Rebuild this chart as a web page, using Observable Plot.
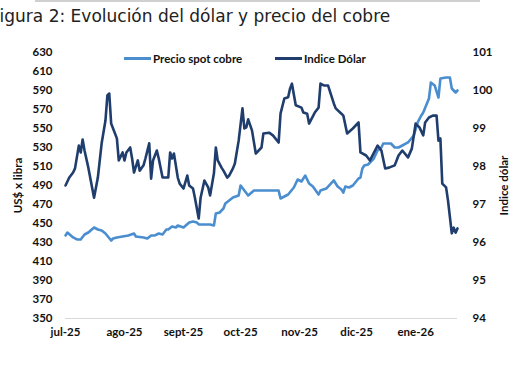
<!DOCTYPE html>
<html><head><meta charset="utf-8">
<script src="https://cdn.jsdelivr.net/npm/d3@7"></script>
<script src="https://cdn.jsdelivr.net/npm/@observablehq/plot@0.6"></script>
<style>
body{margin:0;background:#fff;overflow:hidden;}
#wrap{position:relative;width:510px;height:365px;overflow:hidden;}
#topline{position:absolute;left:35px;top:0;width:445px;height:2px;background:#d0d0d0;}
#title{position:absolute;left:-9px;top:6px;font-family:"DejaVu Sans",sans-serif;font-size:17px;color:#222;white-space:nowrap;}
#chart{position:absolute;left:0;top:40px;}
.leg{position:absolute;top:52px;font-family:Lato,sans-serif;font-weight:bold;font-size:11.5px;color:#111;display:flex;align-items:center;white-space:nowrap;}
.leg span.sw{display:inline-block;width:27px;height:2.5px;margin-right:2px;}
</style></head>
<body><div id="wrap">
<div id="topline"></div>
<div id="title">Figura 2: Evolución del dólar y precio del cobre</div>
<div id="chart"></div>
<div class="leg" style="left:124px"><span class="sw" style="background:#4a8ed0"></span>Precio spot cobre</div>
<div class="leg" style="left:275px"><span class="sw" style="background:#1f3d6d"></span>Indice Dólar</div>
</div>
<script>
const copperDates = ["2025-07-01","2025-07-02","2025-07-05","2025-07-07","2025-07-09","2025-07-11","2025-07-13","2025-07-16","2025-07-18","2025-07-20","2025-07-22","2025-07-25","2025-07-26","2025-07-28","2025-07-31","2025-08-03","2025-08-06","2025-08-07","2025-08-11","2025-08-13","2025-08-15","2025-08-17","2025-08-19","2025-08-21","2025-08-23","2025-08-24","2025-08-26","2025-08-28","2025-08-29","2025-09-01","2025-09-04","2025-09-06","2025-09-08","2025-09-09","2025-09-12","2025-09-15","2025-09-17","2025-09-18","2025-09-20","2025-09-22","2025-09-23","2025-09-25","2025-09-27","2025-09-30","2025-10-01","2025-10-03","2025-10-05","2025-10-08","2025-10-12","2025-10-21","2025-10-22","2025-10-24","2025-10-26","2025-10-29","2025-10-31","2025-11-02","2025-11-04","2025-11-06","2025-11-08","2025-11-11","2025-11-12","2025-11-15","2025-11-16","2025-11-19","2025-11-21","2025-11-23","2025-11-24","2025-11-25","2025-11-27","2025-11-29","2025-12-02","2025-12-03","2025-12-04","2025-12-05","2025-12-07","2025-12-10","2025-12-12","2025-12-14","2025-12-15","2025-12-19","2025-12-21","2025-12-23","2025-12-25","2025-12-28","2025-12-31","2026-01-02","2026-01-04","2026-01-05","2026-01-08","2026-01-09","2026-01-11","2026-01-13","2026-01-14","2026-01-17","2026-01-19","2026-01-20","2026-01-22","2026-01-23"];
const copperValues = [437.4,440.5,435.3,433.2,433.2,438.4,440.5,445.8,443.7,442.6,439.5,432.1,434.2,435.3,436.3,437.4,439.5,436.3,435.3,434.2,437.4,437.4,439.5,438.4,443.7,443.7,446.8,445.8,447.9,445.8,451.1,452.1,451.1,449.0,449.0,449.0,447.9,460.5,461.6,465.8,471.1,474.2,477.4,479.5,490.0,484.7,479.5,484.7,484.7,484.7,476.3,478.4,480.5,487.9,496.3,494.2,500.5,492.1,488.9,480.5,484.7,486.8,488.9,495.3,488.9,485.8,482.6,488.9,487.9,490.0,497.4,498.4,507.9,511.1,512.1,518.4,526.8,530.0,534.2,534.2,530.0,530.0,532.1,535.3,542.6,556.3,563.7,566.8,581.6,598.4,595.3,582.6,602.6,603.7,603.7,592.1,587.9,590.0];
const dollarDates = ["2025-07-01","2025-07-03","2025-07-05","2025-07-06","2025-07-08","2025-07-09","2025-07-10","2025-07-11","2025-07-13","2025-07-16","2025-07-18","2025-07-20","2025-07-22","2025-07-23","2025-07-24","2025-07-25","2025-07-26","2025-07-28","2025-07-29","2025-07-31","2025-08-01","2025-08-02","2025-08-04","2025-08-05","2025-08-06","2025-08-08","2025-08-09","2025-08-11","2025-08-12","2025-08-14","2025-08-15","2025-08-16","2025-08-18","2025-08-19","2025-08-21","2025-08-24","2025-08-25","2025-08-26","2025-08-27","2025-08-29","2025-08-30","2025-09-01","2025-09-03","2025-09-04","2025-09-06","2025-09-07","2025-09-09","2025-09-10","2025-09-12","2025-09-14","2025-09-15","2025-09-17","2025-09-18","2025-09-19","2025-09-21","2025-09-22","2025-09-24","2025-09-25","2025-09-27","2025-09-28","2025-09-30","2025-10-02","2025-10-03","2025-10-04","2025-10-05","2025-10-07","2025-10-09","2025-10-12","2025-10-13","2025-10-16","2025-10-18","2025-10-21","2025-10-22","2025-10-24","2025-10-26","2025-10-27","2025-10-28","2025-10-30","2025-11-02","2025-11-03","2025-11-05","2025-11-06","2025-11-09","2025-11-11","2025-11-12","2025-11-14","2025-11-16","2025-11-19","2025-11-20","2025-11-23","2025-11-24","2025-11-26","2025-11-29","2025-12-02","2025-12-03","2025-12-06","2025-12-08","2025-12-12","2025-12-14","2025-12-16","2025-12-18","2025-12-21","2025-12-23","2025-12-25","2025-12-28","2025-12-30","2026-01-01","2026-01-03","2026-01-05","2026-01-06","2026-01-08","2026-01-10","2026-01-12","2026-01-13","2026-01-14","2026-01-15","2026-01-17","2026-01-18","2026-01-20","2026-01-21","2026-01-22","2026-01-23"];
const dollarValues = [97.50,97.71,97.84,97.95,98.55,98.37,98.71,98.42,97.97,97.18,97.71,98.61,99.21,99.87,99.92,99.13,99.00,98.74,98.16,98.37,98.16,98.37,98.50,98.21,97.84,98.16,97.89,98.03,98.21,98.61,97.68,98.16,98.42,98.21,97.71,97.71,98.37,98.21,98.34,97.71,97.55,97.42,97.76,97.50,97.42,97.18,96.63,97.18,97.63,97.45,97.24,97.82,98.50,98.16,97.97,97.89,97.71,97.76,97.95,98.08,98.68,99.53,99.00,99.03,99.24,98.95,98.34,98.50,98.87,98.89,98.82,98.63,99.39,99.79,99.82,100.05,100.18,99.61,99.55,99.42,99.39,99.13,99.42,99.55,100.18,100.13,100.13,99.66,99.53,99.39,99.34,98.87,99.00,99.16,98.37,98.29,98.16,98.55,98.42,97.95,97.97,98.03,98.29,98.42,98.24,98.47,99.13,99.03,98.82,99.16,99.29,99.34,99.34,98.68,98.74,97.55,97.45,97.11,96.24,96.39,96.26,96.37];
const xTickDates = ["2025-07-01","2025-08-01","2025-09-01","2025-10-01","2025-11-01","2025-12-01","2026-01-01"];
const xTickLabels = ["jul-25","ago-25","sept-25","oct-25","nov-25","dic-25","ene-26"];
const leftTicks = [350,370,390,410,430,450,470,490,510,530,550,570,590,610,630];
const rightTicks = [94,95,96,97,98,99,100,101];

const L0 = 350, L1 = 630, R0 = 94, R1 = 101;
const k = (L1 - L0) / (R1 - R0);
const toLeft = v => L0 + (v - R0) * k;

const copper = copperDates.map((d, i) => ({date: new Date(d), v: copperValues[i]}));
const dollar = dollarDates.map((d, i) => ({date: new Date(d), v: toLeft(dollarValues[i])}));
const tickDates = xTickDates.map(d => new Date(d));
const labelOf = new Map(tickDates.map((d, i) => [+d, xTickLabels[i]]));

const plot = Plot.plot({
  width: 510,
  height: 325,
  marginTop: 12,
  marginBottom: 47,
  marginLeft: 65,
  marginRight: 53,
  style: {fontFamily: "Lato, sans-serif", fontSize: "11.5px", fontWeight: "bold", color: "#111", background: "transparent"},
  x: {type: "utc", domain: [new Date("2025-07-01"), new Date("2026-01-23")]},
  y: {domain: [L0, L1]},
  marks: [
    Plot.ruleY([L0], {stroke: "#d9d9d9", strokeWidth: 1}),
    Plot.line(copper, {x: "date", y: "v", stroke: "#4a8ed0", strokeWidth: 2.6, strokeLinejoin: "round"}),
    Plot.line(dollar, {x: "date", y: "v", stroke: "#1f3d6d", strokeWidth: 2.6, strokeLinejoin: "round"}),
    Plot.axisX({ticks: tickDates, tickFormat: d => labelOf.get(+d), tickSize: 0, tickPadding: 9, label: null}),
    Plot.axisY({anchor: "left", ticks: leftTicks, tickFormat: d => String(d), tickSize: 0, tickPadding: 13,
      label: "US$ x libra", labelAnchor: "center", labelArrow: "none", labelOffset: 52}),
    Plot.axisY({anchor: "right", ticks: rightTicks.map(toLeft), tickFormat: d => String(Math.round(R0 + (d - L0) / k)),
      tickSize: 0, tickPadding: 15, textAnchor: "start",
      label: "Indice dólar", labelAnchor: "center", labelArrow: "none", labelOffset: 50})
  ]
});
document.getElementById("chart").appendChild(plot);
</script>
</body></html>
